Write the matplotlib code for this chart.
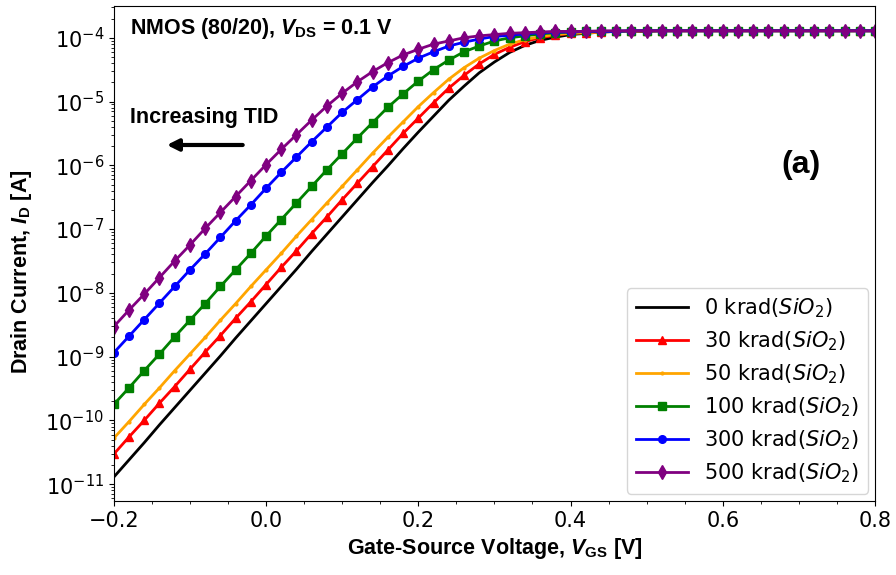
import numpy as np
import matplotlib
matplotlib.use("Agg")
import matplotlib.pyplot as plt
from matplotlib.ticker import MultipleLocator, LogLocator, NullFormatter

# gate sweep, 20 mV steps
vgs = np.linspace(-0.2, 0.8, 51)

# log10 of drain current [A]
log_id_0 = [-10.89, -10.62, -10.35, -10.07, -9.80, -9.53, -9.26, -8.99, -8.71, -8.44,
            -8.17, -7.90, -7.63, -7.35, -7.08, -6.81, -6.54, -6.27, -6.01, -5.74,
            -5.48, -5.23, -4.98, -4.76, -4.55, -4.38, -4.23, -4.12, -4.04, -3.99,
            -3.95, -3.93, -3.91, -3.90, -3.90, -3.90, -3.89, -3.89, -3.89, -3.89,
            -3.89, -3.89, -3.89, -3.89, -3.89, -3.89, -3.89, -3.89, -3.89, -3.89, -3.89]
log_id_30 = [-10.53, -10.26, -10.00, -9.73, -9.47, -9.20, -8.93, -8.67, -8.40, -8.14,
             -7.87, -7.60, -7.34, -7.07, -6.81, -6.54, -6.28, -6.02, -5.76, -5.50,
             -5.26, -5.02, -4.79, -4.59, -4.41, -4.26, -4.15, -4.06, -4.00, -3.96,
             -3.93, -3.92, -3.91, -3.90, -3.90, -3.89, -3.89, -3.89, -3.89, -3.89,
             -3.89, -3.89, -3.89, -3.89, -3.89, -3.89, -3.89, -3.89, -3.89, -3.89, -3.89]
log_id_50 = [-10.28, -10.02, -9.75, -9.49, -9.22, -8.96, -8.70, -8.43, -8.17, -7.90,
             -7.64, -7.38, -7.11, -6.85, -6.59, -6.33, -6.07, -5.81, -5.56, -5.32,
             -5.08, -4.86, -4.65, -4.47, -4.32, -4.20, -4.10, -4.03, -3.98, -3.95,
             -3.93, -3.92, -3.91, -3.90, -3.90, -3.89, -3.89, -3.89, -3.89, -3.89,
             -3.89, -3.89, -3.89, -3.89, -3.89, -3.89, -3.89, -3.89, -3.89, -3.89, -3.89]
log_id_100 = [-9.75, -9.49, -9.22, -8.96, -8.69, -8.43, -8.17, -7.90, -7.64, -7.38,
              -7.11, -6.85, -6.59, -6.33, -6.07, -5.82, -5.57, -5.33, -5.09, -4.88,
              -4.68, -4.50, -4.35, -4.22, -4.13, -4.05, -4.00, -3.97, -3.94, -3.92,
              -3.91, -3.90, -3.90, -3.90, -3.89, -3.89, -3.89, -3.89, -3.89, -3.89,
              -3.89, -3.89, -3.89, -3.89, -3.89, -3.89, -3.89, -3.89, -3.89, -3.89, -3.89]
log_id_300 = [-8.94, -8.68, -8.42, -8.16, -7.90, -7.64, -7.39, -7.13, -6.87, -6.62,
              -6.36, -6.11, -5.87, -5.63, -5.40, -5.17, -4.97, -4.77, -4.60, -4.45,
              -4.32, -4.22, -4.13, -4.07, -4.02, -3.98, -3.96, -3.94, -3.92, -3.91,
              -3.91, -3.90, -3.90, -3.90, -3.89, -3.89, -3.89, -3.89, -3.89, -3.89,
              -3.89, -3.89, -3.89, -3.89, -3.89, -3.89, -3.89, -3.89, -3.89, -3.89, -3.89]
log_id_500 = [-8.53, -8.27, -8.02, -7.76, -7.50, -7.25, -6.99, -6.74, -6.49, -6.24,
              -5.99, -5.75, -5.52, -5.29, -5.07, -4.87, -4.69, -4.53, -4.39, -4.27,
              -4.18, -4.10, -4.05, -4.00, -3.97, -3.95, -3.93, -3.92, -3.91, -3.90,
              -3.90, -3.90, -3.89, -3.89, -3.89, -3.89, -3.89, -3.89, -3.89, -3.89,
              -3.89, -3.89, -3.89, -3.89, -3.89, -3.89, -3.89, -3.89, -3.89, -3.89, -3.89]

doses = ["0", "30", "50", "100", "300", "500"]
curves = [log_id_0, log_id_30, log_id_50, log_id_100, log_id_300, log_id_500]
colors = ["black", "red", "orange", "green", "blue", "purple"]
markers = [None, "^", ".", "s", "o", "d"]
msizes = [0, 6, 4, 5.5, 5.5, 7]

plt.rcParams["mathtext.rm"] = "Liberation Sans:bold"
plt.rcParams["mathtext.it"] = "Liberation Sans:bold:italic"
plt.rcParams["mathtext.bf"] = "Liberation Sans:bold"

fig = plt.figure(figsize=(8.96, 5.75), dpi=100)
ax = fig.add_axes([0.127, 0.129, 0.8496, 0.8607])

for d, c, col, m, ms in zip(doses, curves, colors, markers, msizes):
    ax.plot(vgs, 10 ** np.array(c), color=col, lw=2, marker=m, ms=ms,
            label=d + r" krad($SiO_2$)")

ax.set_yscale("log")
ax.set_xlim(-0.2, 0.8)
ax.set_ylim(5.47e-12, 3.16e-4)
ax.xaxis.set_minor_locator(MultipleLocator(0.05))
ax.yaxis.set_major_locator(LogLocator(base=10, numticks=20))
ax.yaxis.set_minor_locator(LogLocator(base=10, subs=np.arange(2, 10), numticks=20))
ax.yaxis.set_minor_formatter(NullFormatter())
ax.tick_params(labelsize=15)

bold = dict(family="Liberation Sans", weight="bold", math_fontfamily="custom")
ax.set_xlabel(r"Gate-Source Voltage, $V_{\rm GS}$ [V]", fontsize=15.5, labelpad=4, **bold)
ax.set_ylabel(r"Drain Current, $I_{\rm D}$ [A]", fontsize=15.5, **bold)
ax.yaxis.set_label_coords(-0.105, 0.462)

ax.text(0.021, 0.955, r"NMOS (80/20), $V_{\rm DS}$ = 0.1 V", transform=ax.transAxes,
        fontsize=15.5, va="center", **bold)
ax.text(0.021, 0.774, "Increasing TID", transform=ax.transAxes,
        fontsize=15.5, va="center", **bold)
ax.annotate("", xy=(0.066, 0.719), xytext=(0.173, 0.719), xycoords="axes fraction",
            arrowprops=dict(arrowstyle="-|>", color="black", lw=3, mutation_scale=17))
ax.text(0.903, 0.679, "(a)", transform=ax.transAxes, fontsize=23,
        ha="center", va="center", **bold)

ax.legend(loc="lower right", fontsize=15, handlelength=2.5, borderaxespad=0.35,
          labelspacing=0.45)

fig.savefig("out.png")
